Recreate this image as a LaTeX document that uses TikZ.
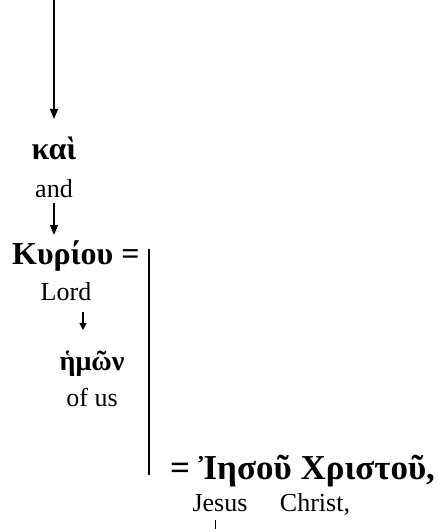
\documentclass[tikz,border=0pt]{standalone}
\usepackage{fontspec}
\setmainfont{Liberation Serif}
\usetikzlibrary{arrows.meta}
\tikzset{
  gk/.style={font=\fontsize{32}{36}\selectfont\bfseries, inner sep=0pt},
  gkbig/.style={font=\fontsize{35}{40}\selectfont\bfseries, inner sep=0pt},
  en/.style={font=\fontsize{26}{30}\selectfont, inner sep=0pt},
  arr/.style={line width=1.3pt, -{Triangle[length=10pt,width=8pt]}},
  ln/.style={line width=2pt}
}
\begin{document}
\begin{tikzpicture}[x=1pt,y=1pt]
\useasboundingbox (0,0) rectangle (438,-529);
\coordinate (top) at (54,0);
\node[gk, anchor=base] (kai) at (54,-160) {καὶ};
\node[en, anchor=base] (and) at (54,-197) {and};
\node[gk, anchor=base west] (kyr) at (12,-264) {Κυρίου =};
\node[en, anchor=base] (lord) at (66,-300) {Lord};
\node[gk, font=\fontsize{28}{32}\selectfont\bfseries, anchor=base] (hmon) at (92,-370) {ἡμῶν};
\node[en, anchor=base] (ofus) at (92,-406) {of us};
\node[gkbig, anchor=base west] (ies) at (170,-479) {= Ἰησοῦ Χριστοῦ,};
\node[en, anchor=base] (jes) at (220,-511) {Jesus};
\node[en, anchor=base] (chr) at (315,-511) {Christ,};
\coordinate (vt) at (149,-249);
\coordinate (vb) at (149,-475);
\coordinate (tb) at (215,-529);
\draw[arr] (top) -- (54,-119);
\draw[arr] (54,-203) -- (54,-235);
\draw[arr, -{Triangle[length=7pt,width=7pt]}] (83,-312) -- (83,-330);
\draw[ln] (vt) -- (vb);
\draw[line width=1pt] (215,-520) -- (tb);
\end{tikzpicture}
\end{document}
